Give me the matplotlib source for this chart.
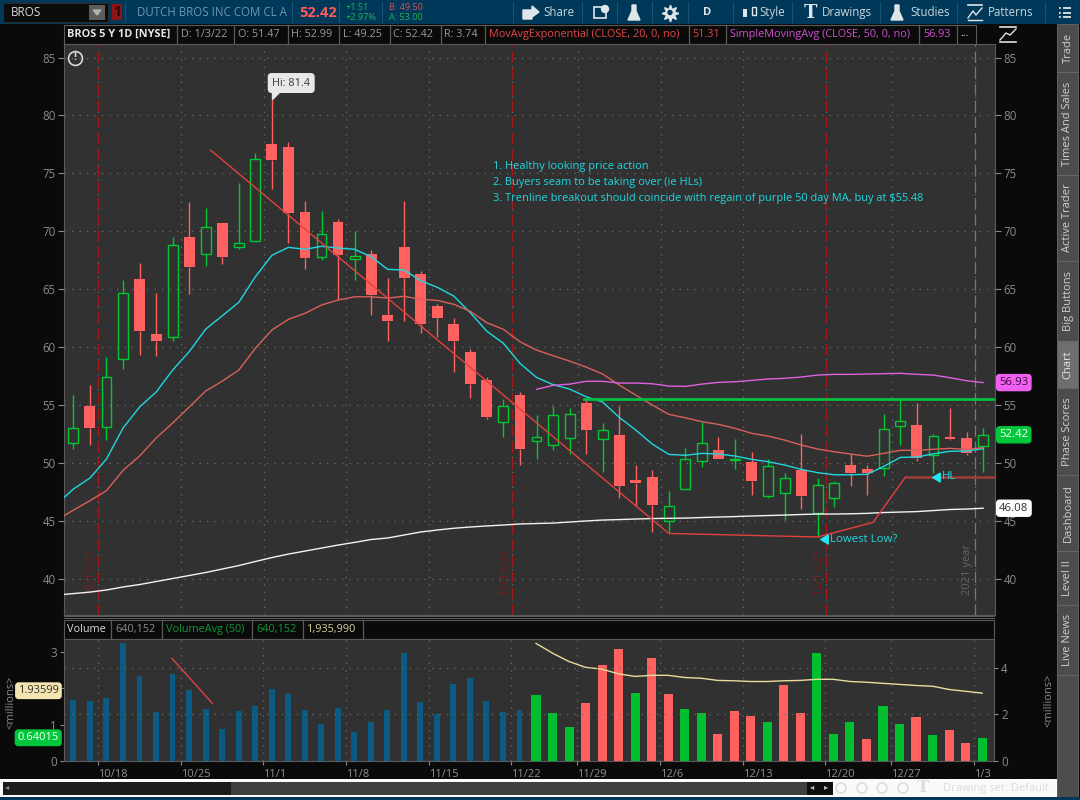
import numpy as np
import matplotlib
matplotlib.use("Agg")
import matplotlib.pyplot as plt
from matplotlib.patches import Rectangle, Circle, Polygon

plt.rcParams['font.family'] = ['Open Sans', 'DejaVu Sans']

# daily candles, 10/14/21 to 1/3/22
opens = [51.7, 54.9, 53.1, 58.95, 65.9, 61.1, 60.85, 69.5, 68.0, 70.7, 68.65, 69.2, 77.55, 77.25,
         71.65, 67.75, 70.8, 67.6, 68.05, 62.75, 68.65, 66.3, 63.55, 62.0, 59.55, 57.15, 53.55, 55.85,
         51.85, 51.5, 52.15, 55.15, 52.05, 52.4, 48.5, 48.75, 44.95, 47.7, 50.2, 51.15, 50.25, 50.05,
         47.15, 47.4, 49.35, 45.65, 47.0, 49.8, 49.45, 49.55, 53.2, 53.25, 50.65, 52.2, 52.15, 51.47]
highs = [55.85, 56.7, 59.15, 65.8, 67.3, 64.7, 69.5, 72.5, 72.05, 70.75, 74.2, 76.75, 81.4, 77.75,
         72.6, 71.75, 71.05, 70.05, 68.35, 66.0, 72.6, 66.55, 63.75, 62.5, 59.8, 57.4, 55.5, 56.15,
         54.1, 54.95, 54.7, 55.55, 53.4, 54.95, 49.8, 49.35, 47.55, 51.25, 53.55, 52.2, 52.05, 50.95,
         50.3, 49.1, 52.45, 48.65, 48.45, 50.75, 49.8, 54.25, 55.4, 55.2, 52.45, 54.75, 52.65, 52.99]
lows = [51.2, 51.55, 52.0, 58.1, 59.35, 59.25, 60.5, 64.55, 67.0, 67.15, 68.5, 69.2, 73.65, 69.0,
        66.7, 67.55, 64.1, 65.75, 62.8, 60.55, 62.25, 61.25, 60.85, 57.85, 55.6, 53.8, 52.2, 49.85,
        50.3, 51.15, 50.8, 50.8, 49.25, 47.0, 46.25, 44.0, 43.9, 47.7, 49.6, 50.3, 49.45, 47.2,
        47.0, 45.05, 46.0, 43.6, 46.2, 48.0, 47.25, 48.9, 51.5, 50.2, 49.1, 52.0, 50.65, 49.25]
closes = [53.0, 53.0, 57.4, 64.7, 61.4, 60.5, 68.85, 66.95, 70.4, 67.8, 68.95, 76.2, 76.15, 71.6,
          67.7, 69.75, 67.95, 67.85, 64.5, 62.25, 65.95, 62.0, 62.5, 60.5, 56.8, 53.95, 54.95, 51.2,
          52.2, 54.1, 54.25, 52.85, 52.8, 48.0, 48.3, 46.35, 46.24, 50.3, 51.7, 50.35, 50.3, 48.45,
          49.7, 48.65, 47.15, 48.05, 48.25, 49.1, 49.1, 52.9, 53.65, 50.45, 52.3, 52.05, 50.85, 52.42]

# moving averages, first value sits one bar before the first candle
fast_ma = [46.44, 47.74, 48.69, 50.33, 53.0, 54.82, 56.11, 58.01, 59.6, 61.55, 62.7, 63.86, 66.07, 67.92,
           68.61, 68.44, 68.7, 68.55, 68.44, 67.8, 66.71, 66.65, 65.73, 65.16, 64.4, 62.96, 61.36, 60.32,
           58.59, 57.38, 56.75, 56.37, 55.71, 55.25, 53.93, 52.83, 51.62, 50.73, 50.65, 50.82, 50.76, 50.59,
           50.3, 50.1, 49.81, 49.44, 49.15, 48.97, 48.97, 49.01, 49.7, 50.47, 50.5, 50.78, 51.0, 51.02, 51.22]
ema20 = [45.06, 45.92, 46.73, 47.6, 49.35, 50.59, 52.14, 53.44, 54.82, 56.2, 57.06, 58.01, 59.89, 61.47,
         62.39, 62.91, 63.63, 64.06, 64.34, 64.34, 64.23, 64.38, 64.12, 64.03, 63.69, 63.08, 62.1, 61.53,
         60.46, 59.74, 59.25, 58.79, 58.27, 57.67, 56.72, 55.85, 54.99, 54.19, 53.89, 53.55, 53.32, 52.98,
         52.55, 52.31, 51.97, 51.54, 51.19, 50.96, 50.76, 50.57, 50.82, 51.08, 51.08, 51.17, 51.25, 51.17, 51.31]
sma200 = [38.58, 38.71, 38.84, 39.02, 39.28, 39.49, 39.75, 40.01, 40.27, 40.53, 40.83, 41.13, 41.48, 41.82,
          42.12, 42.38, 42.64, 42.9, 43.13, 43.38, 43.51, 43.77, 44.03, 44.2, 44.35, 44.46, 44.55, 44.63,
          44.72, 44.76, 44.8, 44.89, 44.98, 45.06, 45.1, 45.15, 45.19, 45.21, 45.23, 45.28, 45.32, 45.36,
          45.41, 45.45, 45.49, 45.54, 45.58, 45.58, 45.6, 45.64, 45.71, 45.75, 45.79, 45.88, 45.97, 46.01, 46.08]
# these two only start at bar 28
sma50 = [56.35, 56.69, 56.8, 57.04, 57.04, 56.89, 56.89, 56.83, 56.63, 56.6, 56.8, 56.95, 57.0, 57.12,
         57.24, 57.3, 57.41, 57.58, 57.64, 57.64, 57.67, 57.7, 57.73, 57.64, 57.58, 57.35, 57.09, 56.93]
vol_avg = [3.24, 2.97, 2.74, 2.58, 2.53, 2.40, 2.33, 2.36, 2.36, 2.30, 2.28, 2.22, 2.21, 2.19,
           2.19, 2.21, 2.22, 2.25, 2.25, 2.19, 2.17, 2.14, 2.11, 2.08, 2.06, 1.97, 1.92, 1.87]

volume = [1.68, 1.65, 1.74, 3.25, 2.34, 1.35, 2.40, 1.96, 1.43, 0.88, 1.38, 1.52, 1.98, 1.85,
          1.40, 1.02, 1.46, 0.80, 1.07, 1.40, 2.98, 1.63, 1.29, 2.12, 2.29, 1.65, 1.35, 1.40,
          1.82, 1.32, 0.94, 1.60, 2.64, 3.09, 1.87, 2.84, 1.85, 1.43, 1.32, 0.74, 1.38, 1.24,
          1.07, 2.09, 1.32, 2.98, 0.74, 1.07, 0.61, 1.52, 1.02, 1.21, 0.72, 0.85, 0.50, 0.64]
vol_colors = list("b" * 28 + "gggrrrgrrggrrrgrrgggrggrgrrg")

date_idx = [2, 7, 12, 17, 22, 27, 31, 36, 41, 46, 50, 55]
date_labels = ["10/18", "10/25", "11/1", "11/8", "11/15", "11/22", "11/29", "12/6", "12/13", "12/20", "12/27", "1/3"]

# drawings on the chart, (bar, price)
trend_x, trend_y = [8.3, 36.0, 45.0, 48.34, 50.32], [77.0, 43.9, 43.6, 44.85, 48.8]
hl_x, hl_y = [50.32, 56.0], [48.8, 48.8]
vol_trend_x, vol_trend_y = [5.96, 8.41], [2.83, 1.59]
breakout = 55.48
notes = ["1. Healthy looking price action", "2. Buyers seam to be taking over (ie HLs)",
         "3. Trenline breakout should coincide with regain of purple 50 day MA, buy at $55.48"]

BG = "#313131"
GREEN = "#00c832"
RED = "#ff6060"
BLUE = "#0a5a82"
CYAN = "#1fd8e0"
SALMON = "#d9605c"
MAGENTA = "#e060e0"
GRID = "#6c6c6c"
TICK = "#8a8a8a"
TEAL = "#00385a"

fig = plt.figure(figsize=(10.8, 8), dpi=100, facecolor="#0a0a0a")


def rect(x0, y0, x1, y1):
    return [x0 / 1080, 1 - y1 / 800, (x1 - x0) / 1080, (y1 - y0) / 800]


# window chrome in pixel coordinates
ui = fig.add_axes([0, 0, 1, 1], zorder=0)
ui.set_xlim(0, 1080)
ui.set_ylim(800, 0)
ui.axis("off")


def box(x0, y0, x1, y1, fc, ec="none", lw=0.8):
    ui.add_patch(Rectangle((x0, y0), x1 - x0, y1 - y0, facecolor=fc, edgecolor=ec, linewidth=lw))


def label(x, y, s, color="#8f8f8f", size=8, **kw):
    kw.setdefault("va", "center")
    ui.text(x, y, s, color=color, fontsize=size, **kw)


box(0, 0, 1080, 24, TEAL)
box(3, 3, 108, 22, "#0c0c0c", "#2a2a2a")
label(11, 12.5, "BROS", "#d8d8d8", 8.5)
box(89, 5, 105, 20, "#5c5c5c")
ui.add_patch(Polygon([[93, 10], [101, 10], [97, 15]], color="#b0b0b0"))
box(112, 4, 122, 20, "#8c1414")
label(117, 12.5, "1", "#30060a", 10, ha="center", fontweight="bold")
label(137, 12.5, "DUTCH BROS INC COM CL A", "#6f97ad", 8.3)
label(299, 13, "52.42", "#ff5a5a", 10.5, fontweight="bold")
label(346, 7.5, "+1.51", "#22b34a", 6.6)
label(346, 17, "+2.97%", "#22b34a", 6.6)
label(389, 7.5, "B: 49.50", "#d85050", 6.6)
label(389, 17, "A: 53.00", "#22b34a", 6.6)
for x in [125, 292, 339, 382, 513, 582, 617, 652, 688, 733, 792, 880, 957, 1045]:
    ui.plot([x, x], [2, 22], color="#1b5375", lw=0.8)
for x, s in [(543, "Share"), (759, "Style"), (822, "Drawings"), (910, "Studies"), (988, "Patterns")]:
    label(x, 12.5, s, "#c8d5dd", 8.3)
label(707, 12.5, "D", "#dfe6ea", 8, ha="center", fontweight="bold")
# toolbar icons
for x in [634, 897]:
    ui.add_patch(Polygon([[x - 2, 5], [x + 2, 5], [x + 2, 11], [x + 6, 20], [x - 6, 20], [x - 2, 11]], color="#dfe6ea"))
ui.add_patch(Polygon([[523, 19], [523, 10], [532, 10], [532, 6], [539, 12], [532, 17], [532, 19]], color="#dfe6ea"))
box(594, 7, 606, 18, "none", "#dfe6ea", 1.2)
ui.add_patch(Circle((605, 9), 3.5, color="#dfe6ea"))
ui.plot([670], [12.5], marker=(8, 1, 0), ms=12, color="#dfe6ea")
ui.add_patch(Circle((670, 12.5), 2, color=TEAL, zorder=5))
box(743, 9, 747, 17, "#dfe6ea")
box(752, 7, 756, 15, "none", "#dfe6ea", 1)
ui.text(810, 13, "T", color="#dfe6ea", fontsize=13, fontweight="bold", family="DejaVu Serif", ha="center", va="center")
ui.plot([968, 982], [5, 5], color="#dfe6ea", lw=1.2)
ui.plot([968, 973, 976, 982], [18, 11, 15, 8], color="#dfe6ea", lw=1)
ui.plot([968, 982], [20, 20], color="#dfe6ea", lw=1)
for y in [8, 12.5, 17]:
    ui.plot([1059, 1071], [y, y], color="#dfe6ea", lw=1.3, ls=(0, (1, 1.2, 8, 0)))

# header strip over the price pane
box(64, 25, 976, 44, "#0a0a0a", "#5a5a5a")
for x in [177, 234, 287.5, 339, 389.5, 441, 485, 688.8, 726, 919, 957.4]:
    ui.plot([x, x], [25, 44], color="#5a5a5a", lw=0.9)
label(67, 34.5, "BROS 5 Y 1D [NYSE]", "#e6e6e6", 7.8, fontweight="bold")
for x, s in [(181, "D: 1/3/22"), (238, "O: 51.47"), (291, "H: 52.99"), (343, "L: 49.25"), (393, "C: 52.42"), (444, "R: 3.74")]:
    label(x, 34.5, s, "#9a9a9a", 7.8)
label(489, 34.5, "MovAvgExponential (CLOSE, 20, 0, no)", "#e04848", 7.8)
label(692, 34.5, "51.31", "#e04848", 7.8)
label(730, 34.5, "SimpleMovingAvg (CLOSE, 50, 0, no)", "#d050d0", 7.8)
label(923, 34.5, "56.93", "#d050d0", 7.8)
label(960, 33, "...", "#d8d8d8", 7.8)
ui.plot([1000, 1016], [27, 27], color="#e0e0e0", lw=1.2)
ui.plot([1000, 1016], [42, 42], color="#e0e0e0", lw=1.2)
ui.plot([1000, 1006, 1010, 1016], [40, 33, 35, 29], color="#e0e0e0", lw=1)

# header strip over the volume pane
box(64, 620, 994, 639, "#0a0a0a", "#5a5a5a")
for x in [111, 162, 252, 303, 363]:
    ui.plot([x, x], [620, 639], color="#5a5a5a", lw=0.9)
label(67, 629.5, "Volume", "#dcdcdc", 7.8)
label(115, 629.5, "640,152", "#8a8a8a", 7.8)
label(166, 629.5, "VolumeAvg (50)", "#109838", 7.8)
label(256, 629.5, "640,152", "#109838", 7.8)
label(307, 629.5, "1,935,990", "#d8d0a0", 7.8)
ui.plot([64, 994], [616, 616], color="#5a5a5a", lw=0.8)
ui.plot([64, 994], [618, 618], color="#5a5a5a", lw=0.8)
label(11.5, 702, "<millions>", "#8a8a8a", 8, rotation=90, ha="center")
label(1048.5, 700, "<millions>", "#8a8a8a", 8, rotation=90, ha="center")

# side tabs
tabs = [("Trade", 24, 72), ("Times And Sales", 72, 175), ("Active Trader", 175, 261), ("Big Buttons", 261, 341),
        ("Chart", 341, 388), ("Phase Scores", 388, 475), ("Dashboard", 475, 551), ("Level II", 551, 605),
        ("Live News", 605, 675)]
for name, y0, y1 in tabs:
    active = name == "Chart"
    box(1057, y0, 1078, y1, "#6e6e6e" if active else "#4c4c4c", "#6a6a6a", 0.6)
    label(1068, (y0 + y1) / 2, name, "#e4e4e4" if active else "#cfcfcf", 8, rotation=90, ha="center")
box(1057, 675, 1078, 800, "#4c4c4c", "#6a6a6a", 0.6)

# bottom scroll bar
box(0, 779, 1057, 797, "#fafafa")
box(3, 782, 231, 795, "#1c1c1c")
box(231, 782, 807, 795, "#404040")
box(807, 782, 833, 795, "#0e0e0e")
label(7, 788, "\u25c2", "#8a8a8a", 6, ha="center")
label(812, 788, "\u25c2", "#c0c0c0", 6, ha="center")
label(826, 788, "\u25b8", "#c0c0c0", 6, ha="center")
for x in [841, 862, 882, 903]:
    ui.add_patch(Circle((x, 788), 5, facecolor="none", edgecolor="#dcdcdc", lw=1.1))
label(923, 788, "T", "#dcdcdc", 12, ha="center", fontweight="bold", family="DejaVu Serif")
label(943, 788, "Drawing set: Default", "#dcdcdc", 8)
box(0, 797, 1080, 800, TEAL)

# price pane
x_left = (64 - 73.4) / 16.54
x_right = (995 - 73.4) / 16.54
ax = fig.add_axes(rect(64, 44, 995, 615), zorder=2, facecolor=BG)
ax.set_xlim(x_left, x_right)
ax.set_ylim(36.86, 86.17)

price_ticks = list(range(40, 90, 5))
ax.set_yticks(price_ticks)
ax.set_xticks(np.array(date_idx) - 0.5)
ax.set_xticklabels([])
ax.tick_params(axis="y", left=True, right=True, labelleft=True, labelright=True, length=4, width=0.8,
               color=TICK, labelcolor=TICK, labelsize=8.3, pad=2)
ax.tick_params(axis="x", length=0)
ax.grid(True, color=GRID, linestyle=(0, (1, 5)), linewidth=0.9)
ax.set_axisbelow(True)
for s in ax.spines.values():
    s.set_color("#5a5a5a")
    s.set_linewidth(0.8)

bars = np.arange(len(closes))
width = 0.66
for i in bars:
    o, h, l, c = opens[i], highs[i], lows[i], closes[i]
    top, bottom = max(o, c), min(o, c)
    col = GREEN if c >= o else RED
    ax.vlines(i, top, h, color=col, lw=1.0, zorder=3)
    ax.vlines(i, l, bottom, color=col, lw=1.0, zorder=3)
    if c >= o:
        ax.add_patch(Rectangle((i - width / 2 + 0.03, bottom), width - 0.06, top - bottom, facecolor="none",
                               edgecolor=col, linewidth=1.0, zorder=3))
    else:
        ax.bar(i, top - bottom, width, bottom=bottom, color=col, zorder=3)

ma_x = np.arange(-1, len(closes))
ax.plot(ma_x, fast_ma, color=CYAN, lw=1.0, zorder=4)
ax.plot(ma_x, ema20, color=SALMON, lw=1.0, zorder=4)
ax.plot(ma_x, sma200, color="#f2f2f2", lw=1.0, zorder=4)
ax.plot(np.arange(28, 56), sma50, color=MAGENTA, lw=1.0, zorder=4)

# trendline along the highs, then the line through the lows
ax.plot(trend_x, trend_y, color="#e2413f", lw=1.0, zorder=5)
ax.plot(hl_x, hl_y, color="#a23c3a", lw=1.8, zorder=5)
ax.plot([30.87, x_right], [breakout, breakout], color="#00c040", lw=2, zorder=5)

for idx, s in [(2, "10/15/21"), (27, "11/19/21"), (46, "12/17/21")]:
    ax.axvline(idx - 0.5, color="#a01818", lw=0.9, ls=(0, (9, 4)), zorder=2)
    ax.text(idx - 0.93, 38.58, s, color="#7c1c1c", fontsize=8, rotation=90, ha="center", va="bottom")
ax.axvline(54.5, color="#777777", lw=0.9, ls=(0, (9, 4)), zorder=2)
ax.text(54.07, 38.58, "2021 year", color="#646464", fontsize=8, rotation=90, ha="center", va="bottom")

for y, s in zip([75.63, 74.25, 72.87], notes):
    ax.text(25.35, y, s, color=CYAN, fontsize=7.9, va="center")

# cyan markers
arrow = [(1, 1.2), (1, -1.2), (-1, 0), (1, 1.2)]
ax.plot(45.4, 43.4, marker=arrow, color="#1fe8f0", ms=6.5, zorder=6)
ax.text(45.76, 43.4, "Lowest Low?", color=CYAN, fontsize=8.2, va="center", zorder=7)
ax.plot(52.16, 48.8, marker=arrow, color="#1fe8f0", ms=6.5, zorder=6)
ax.text(52.52, 48.8, "HL", color=CYAN, fontsize=8.2, va="center", zorder=7)

# high callout
ax.text(12.02, 82.8, "Hi: 81.4", color="#3a3a3a", fontsize=7.8, va="center", zorder=7,
        bbox=dict(boxstyle="round,pad=0.35,rounding_size=0.3", fc="#e8e8e8", ec="#e8e8e8"))
ax.add_patch(Polygon([[12.0, 81.4], [12.0, 82.2], [12.55, 82.2]], closed=True, color="#e8e8e8", zorder=7))

ax.plot(0.08, 85, marker="o", ms=10, mfc="none", mec="#d8d8d8", mew=1.2, zorder=6)
ax.text(0.08, 85, "!", color="#d8d8d8", fontsize=8, ha="center", va="center", fontweight="bold", zorder=6)

# value tags on the right
ytr = ax.get_yaxis_transform()
for v, s, fc, tc in [(56.93, "56.93", "#f060f0", "#3a0a3a"), (52.42, "52.42", "#00c83a", "#ffffff"), (46.08, "46.08", "#ffffff", "#303030")]:
    ax.text(1.0045, v, s, transform=ytr, color=tc, fontsize=8.2, va="center", ha="left", zorder=8,
            bbox=dict(boxstyle="round,pad=0.22,rounding_size=0.25", fc=fc, ec=fc))

# volume pane
vax = fig.add_axes(rect(64, 639, 994, 761), zorder=2, facecolor=BG)
vax.set_xlim(x_left, x_right)
vax.set_ylim(0, 122 / 36.3)
col_map = {"b": BLUE, "g": "#00c030", "r": RED}
for i, v in enumerate(volume):
    w = 0.36 if vol_colors[i] == "b" else 0.55
    vax.bar(i, v, w, color=col_map[vol_colors[i]], zorder=3)
vax.plot(np.arange(28, 56), vol_avg, color="#e8dc9c", lw=1.0, zorder=4)
vax.plot(vol_trend_x, vol_trend_y, color="#e2413f", lw=1.0, zorder=5)

# the 2 sits behind the yellow tag in the original
vax.set_yticks([0, 1, 2, 3])
vax.set_yticklabels(["0", "1", "", "3"])
vax.set_xticks(np.array(date_idx) - 0.5)
vax.set_xticklabels(date_labels, ha="left")
vax.tick_params(axis="x", length=3, width=0.8, color=TICK, labelcolor="#8f8f8f", labelsize=8, pad=3)
vax.tick_params(axis="y", length=3, width=0.8, color=TICK, labelcolor=TICK, labelsize=8.3, pad=2)
vax.grid(True, axis="x", color=GRID, linestyle=(0, (1, 5)), linewidth=0.9)
vax.set_axisbelow(True)
for s in vax.spines.values():
    s.set_color("#5a5a5a")
    s.set_linewidth(0.8)

rax = vax.twinx()
rax.set_ylim(0, 122 / 23.35)
rax.set_yticks([0, 2, 4])
rax.tick_params(axis="y", length=3, width=0.8, color=TICK, labelcolor=TICK, labelsize=8.3, pad=2)
rax.grid(True, color=GRID, linestyle=(0, (1, 5)), linewidth=0.9)
rax.set_axisbelow(True)
for s in rax.spines.values():
    s.set_visible(False)
rax.patch.set_visible(False)

vtr = vax.get_yaxis_transform()
for v, s, fc, tc in [(1.936, "1.93599", "#f4e4b0", "#303030"), (0.64, "0.64015", "#00c83a", "#ffffff")]:
    vax.text(-0.0055, v, s, transform=vtr, color=tc, fontsize=8, va="center", ha="right", zorder=8,
             bbox=dict(boxstyle="round,pad=0.2,rounding_size=0.25", fc=fc, ec=fc))

fig.savefig("out.png", dpi=100, facecolor=fig.get_facecolor())
